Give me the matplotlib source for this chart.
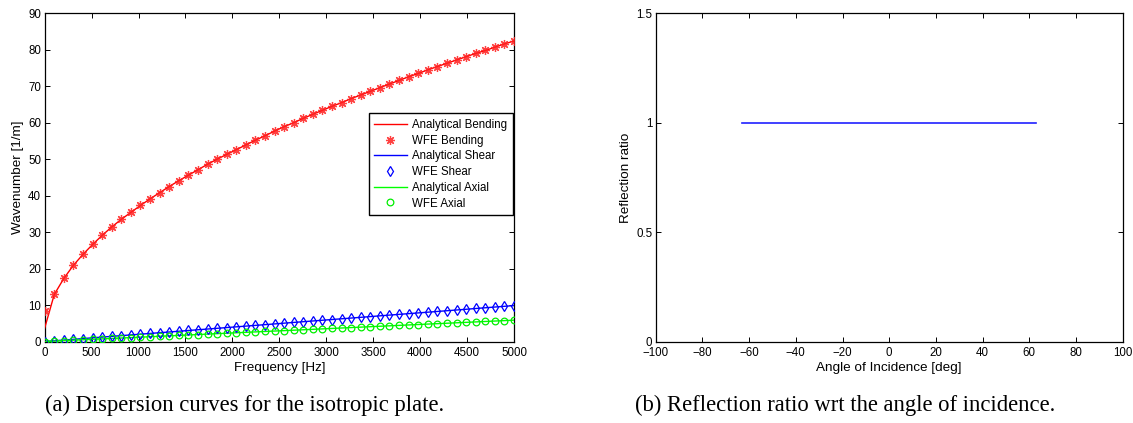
import matplotlib
matplotlib.use("Agg")
import matplotlib.pyplot as plt

# ---------------- data ----------------
freq_hz = [0, 102, 204, 306, 408, 510, 612, 714, 816, 918,
           1020, 1122, 1224, 1327, 1429, 1531, 1633, 1735, 1837, 1939,
           2041, 2143, 2245, 2347, 2449, 2551, 2653, 2755, 2857, 2959,
           3061, 3163, 3265, 3367, 3469, 3571, 3673, 3776, 3878, 3980,
           4082, 4184, 4286, 4388, 4490, 4592, 4694, 4796, 4898, 5000]

bending_wfe = [8.5, 12.9, 17.3, 20.9, 23.9, 26.6, 29.1, 31.4, 33.5, 35.4,
               37.3, 39.1, 40.8, 42.5, 44.1, 45.6, 47.1, 48.6, 50.0, 51.3,
               52.6, 53.9, 55.2, 56.4, 57.7, 58.9, 60.0, 61.2, 62.3, 63.4,
               64.5, 65.5, 66.6, 67.6, 68.6, 69.6, 70.6, 71.6, 72.6, 73.5,
               74.5, 75.4, 76.3, 77.2, 78.1, 79.0, 79.8, 80.7, 81.6, 82.4]
bending_analytical = [3.7] + bending_wfe[1:]

shear_wfe = [0.00, 0.20, 0.40, 0.60, 0.80, 1.01, 1.21, 1.41, 1.61, 1.81,
             2.01, 2.21, 2.41, 2.61, 2.81, 3.02, 3.22, 3.42, 3.62, 3.82,
             4.02, 4.22, 4.42, 4.62, 4.82, 5.03, 5.23, 5.43, 5.63, 5.83,
             6.03, 6.23, 6.43, 6.63, 6.83, 7.04, 7.24, 7.44, 7.64, 7.84,
             8.04, 8.24, 8.44, 8.64, 8.84, 9.05, 9.25, 9.45, 9.65, 9.85]
shear_analytical = shear_wfe

axial_wfe = [0.00, 0.12, 0.24, 0.36, 0.48, 0.60, 0.72, 0.84, 0.96, 1.07,
             1.19, 1.31, 1.43, 1.55, 1.67, 1.79, 1.91, 2.03, 2.15, 2.27,
             2.39, 2.51, 2.63, 2.75, 2.87, 2.98, 3.10, 3.22, 3.34, 3.46,
             3.58, 3.70, 3.82, 3.94, 4.06, 4.18, 4.30, 4.42, 4.54, 4.66,
             4.78, 4.89, 5.01, 5.13, 5.25, 5.37, 5.49, 5.61, 5.73, 5.85]
axial_analytical = axial_wfe

angle_deg = [-63, -50, -40, -30, -20, -10, 0, 10, 20, 30, 40, 50, 63]
reflection_ratio = [1.0, 1.0, 1.0, 1.0, 1.0, 1.0, 1.0, 1.0, 1.0, 1.0, 1.0, 1.0, 1.0]

freq_ticks = [0, 500, 1000, 1500, 2000, 2500, 3000, 3500, 4000, 4500, 5000]
wavenumber_ticks = [0, 10, 20, 30, 40, 50, 60, 70, 80, 90]
angle_ticks = [-100, -80, -60, -40, -20, 0, 20, 40, 60, 80, 100]
ratio_ticks = [0, 0.5, 1, 1.5]
ratio_ticklabels = ["0", "0.5", "1", "1.5"]

caption_a = "(a) Dispersion curves for the isotropic plate."
caption_b = "(b) Reflection ratio wrt the angle of incidence."

# ---------------- style ----------------
plt.rcParams['font.family'] = ['Liberation Sans', 'DejaVu Sans']
W, H = 1133, 423
fig = plt.figure(figsize=(W / 100, H / 100), dpi=100)

TICK_FS = 8.3
LABEL_FS = 9.7


def style_axes(ax):
    for sp in ax.spines.values():
        sp.set_linewidth(0.9)
        sp.set_color('black')
    ax.tick_params(direction='in', top=True, right=True, length=3.5,
                   width=0.7, labelsize=TICK_FS, colors='black')
    ax.tick_params(axis='x', pad=4)
    ax.tick_params(axis='y', pad=2.5)


# left axes
ax1 = fig.add_axes([44.7 / W, (H - 341.5) / H, (514.0 - 44.7) / W, (341.5 - 13.3) / H])
ax1.plot(freq_hz, bending_analytical, color='#ff0000', lw=1.0, label='Analytical Bending', zorder=3)
ax1.plot(freq_hz, bending_wfe, linestyle='none', marker=(8, 2, 0), markersize=6.5,
         markeredgewidth=0.9, color='#ff2020', alpha=0.85, label='WFE Bending', zorder=4)
ax1.plot(freq_hz, shear_analytical, color='#0000ff', lw=1.0, label='Analytical Shear', zorder=3)
ax1.plot(freq_hz, shear_wfe, linestyle='none', marker='d', markersize=5.0,
         markeredgewidth=0.9, markerfacecolor='none', markeredgecolor='#0000ff',
         label='WFE Shear', zorder=4)
ax1.plot(freq_hz, axial_analytical, color='#00ff00', lw=1.0, label='Analytical Axial', zorder=3)
ax1.plot(freq_hz, axial_wfe, linestyle='none', marker='o', markersize=4.8,
         markeredgewidth=0.9, markerfacecolor='none', markeredgecolor='#00ee00',
         label='WFE Axial', zorder=4)
ax1.set_xlim(0, 5000)
ax1.set_ylim(0, 90)
ax1.set_xticks(freq_ticks)
ax1.set_yticks(wavenumber_ticks)
style_axes(ax1)
ax1.set_xlabel('Frequency [Hz]', fontsize=LABEL_FS, labelpad=2)
ax1.set_ylabel('Wavenumber [1/m]', fontsize=LABEL_FS, labelpad=3)

leg = ax1.legend(loc='upper right', bbox_to_anchor=(512.7 / W, (H - 113.3) / H),
                 bbox_transform=fig.transFigure, borderaxespad=0, fontsize=8.3,
                 numpoints=1, handlelength=2.8, handletextpad=0.45, borderpad=0.5,
                 labelspacing=0.32, fancybox=False, framealpha=1, edgecolor='black')
leg.get_frame().set_linewidth(1.0)

# right axes
ax2 = fig.add_axes([655.7 / W, (H - 341.5) / H, (1122.7 - 655.7) / W, (341.5 - 13.3) / H])
ax2.plot(angle_deg, reflection_ratio, color='#2020ff', lw=1.2)
ax2.set_xlim(-100, 100)
ax2.set_ylim(0, 1.5)
ax2.set_xticks(angle_ticks)
ax2.set_yticks(ratio_ticks)
ax2.set_yticklabels(ratio_ticklabels)
style_axes(ax2)
ax2.set_xlabel('Angle of Incidence [deg]', fontsize=LABEL_FS, labelpad=2)
ax2.set_ylabel('Reflection ratio', fontsize=LABEL_FS, labelpad=3)

# captions
fig.text(45 / W, (H - 411) / H, caption_a, family=['Liberation Serif', 'DejaVu Serif'],
         fontsize=16.3, ha='left', va='baseline')
fig.text(635 / W, (H - 411) / H, caption_b, family=['Liberation Serif', 'DejaVu Serif'],
         fontsize=16.3, ha='left', va='baseline')

fig.savefig('out.png', dpi=100)
